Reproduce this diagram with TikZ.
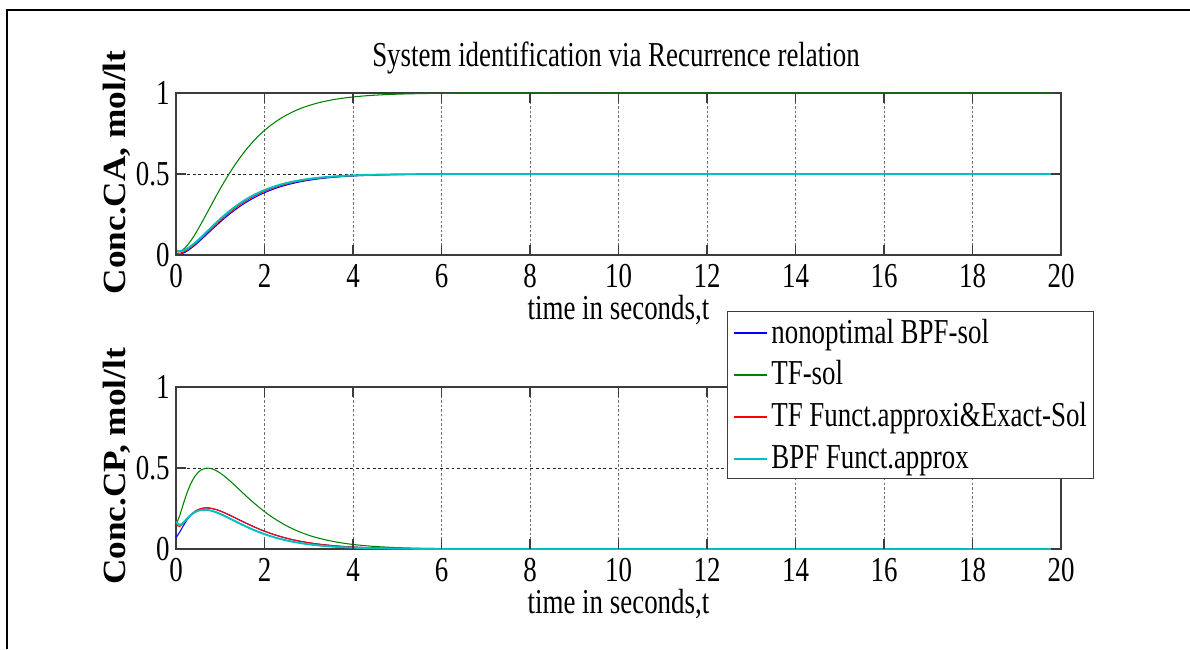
\documentclass[tikz,border=0pt]{standalone}
\usepackage{fontspec}
\setmainfont{Liberation Serif}[FakeStretch=0.77]
\newfontfamily\labelfont{Liberation Serif}
\usepackage{tikz}
\definecolor{blueln}{RGB}{0,0,255}
\definecolor{greenln}{RGB}{0,128,0}
\definecolor{redln}{RGB}{255,0,0}
\definecolor{cyanln}{RGB}{0,191,191}
\definecolor{gridc}{RGB}{110,110,110}
\definecolor{boxc}{RGB}{60,60,60}

\begin{document}
\begin{tikzpicture}[
  lbl/.style={font=\fontsize{19.9}{24}\selectfont, inner sep=0pt},
  ylab/.style={font=\labelfont\bfseries\fontsize{18.4}{22}\selectfont, inner sep=0pt, rotate=90, xscale=1.09},
  gridv/.style={gridc, line width=0.55pt, dash pattern=on 1.4pt off 1.2pt},
  gridh/.style={black!85, line width=0.55pt, dash pattern=on 1.6pt off 1.6pt},
  curve/.style={line width=0.6pt}]

\useasboundingbox (0,0) rectangle (23.8,12.98);
% page frame: only the left and top edges are visible
\draw[line width=1.1pt] (0.14,0) -- (0.14,12.78) -- (23.8,12.78);

\newcommand{\subplot}[4]{%
  \begin{scope}[shift={(3.52,#1)}, x=0.885cm, y=3.24cm]
    \foreach \t in {2,4,...,18}
      \draw[gridv] (\t,0) -- (\t,1);
    \draw[gridh] (0,0.5) -- (20,0.5);
    \draw[boxc, line width=0.8pt] (0,0) rectangle (20,1);
    #4
    \foreach \t in {0,2,...,20}{
      \draw[boxc, line width=0.6pt] (\t,0) -- ++(0,0.06) (\t,1) -- ++(0,-0.06);
      \node[lbl, anchor=base] (#2x\t) at (\t,-0.198) {\t};
    }
    \foreach \v [count=\k] in {0,0.5,1}{
      \draw[boxc, line width=0.6pt] (0,\v) -- ++(0.22,0) (20,\v) -- ++(-0.22,0);
      \node[lbl, anchor=east] (#2y\k) at (-0.136,\v) {\v};
    }
    \node[lbl, anchor=base] (#2xlab) at (10,-0.401) {time in seconds,t};
    \node[ylab] (#2ylab) at (-1.333,0.51) {#3};
  \end{scope}
}

% CA: TF-sol settles at 1, the three others at 0.5
\subplot{7.88}{ca}{Conc.CA, mol/lt}{%
  \draw[blueln, curve] plot[domain=0:9, samples=90, smooth] (\x,{0.5*(1-(1+1.4*\x)*exp(-1.4*\x))}) -- (20,0.5);
  \draw[greenln, curve] plot[domain=0:9, samples=90, smooth] (\x,{1-(1+1.4*\x)*exp(-1.4*\x)+0.02*exp(-3*\x)}) -- (20,1);
  \draw[redln, curve] plot[domain=0:9, samples=90, smooth] (\x,{0.5*(1-(1+1.45*\x)*exp(-1.45*\x))+0.01*exp(-3*\x)}) -- (20,0.5);
  \draw[cyanln, line width=1.1pt] plot[domain=0:9, samples=90, smooth] (\x,{0.5*(1-(1+1.5*\x)*exp(-1.5*\x))+0.025*exp(-3*\x)}) -- (20,0.5);
}
% CP: peak near t=0.6, TF-sol twice as high
\subplot{2.0}{cp}{Conc.CP, mol/lt}{%
  \draw[blueln, curve] plot[domain=0:9, samples=110, smooth] (\x,{1.0*\x*exp(-1.45*\x)+0.07*exp(-10*\x)}) -- (20,0);
  \draw[greenln, curve] plot[domain=0:9, samples=110, smooth] (\x,{1.9*\x*exp(-1.4*\x)+0.15*exp(-10*\x)}) -- (20,0);
  \draw[redln, curve] plot[domain=0:9, samples=110, smooth] (\x,{1.0*\x*exp(-1.45*\x)+0.15*exp(-10*\x)}) -- (20,0);
  \draw[cyanln, line width=1.1pt] plot[domain=0:9, samples=110, smooth] (\x,{1.02*\x*exp(-1.55*\x)+0.17*exp(-10*\x)}) -- (20,0);
}

\node[lbl, anchor=base] (title) at (12.32,11.64) {System identification via Recurrence relation};

% legend
\node[draw=boxc, fill=white, line width=0.6pt, inner sep=0pt, anchor=north west,
      minimum width=7.32cm, minimum height=3.34cm] (legend) at (14.54,6.76) {};
\foreach \c/\txt [count=\i] in {blueln/nonoptimal BPF-sol, greenln/TF-sol,
    redln/TF Funct.approxi\&Exact-Sol, cyanln/BPF Funct.approx}{
  \coordinate (s\i) at (14.68,{6.32-0.84*(\i-1)});
  \draw[\c, line width=0.8pt] (s\i) -- ++(0.66,0);
  \node[lbl, anchor=base west] (e\i) at (15.42,{6.12-0.84*(\i-1)}) {\txt};
}
\end{tikzpicture}
\end{document}
